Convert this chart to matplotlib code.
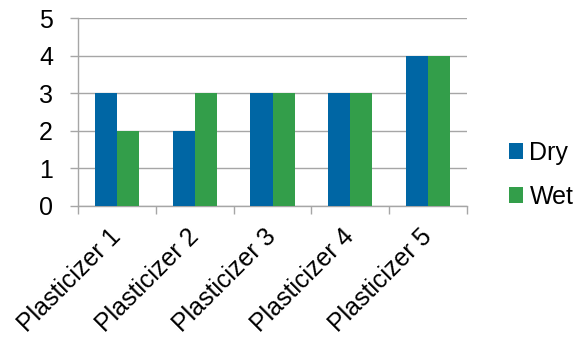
import matplotlib
matplotlib.use("Agg")
import matplotlib.pyplot as plt
import matplotlib.transforms as mtransforms
import numpy as np

categories = ["Plasticizer 1", "Plasticizer 2", "Plasticizer 3", "Plasticizer 4", "Plasticizer 5"]
dry = [3, 2, 3, 3, 4]
wet = [2, 3, 3, 3, 4]
y_ticks = [0, 1, 2, 3, 4, 5]

plt.rcParams["font.family"] = ["Liberation Sans", "DejaVu Sans"]
FS = 18

fig = plt.figure(figsize=(5.78, 3.41), dpi=100)
ax = fig.add_axes([0.135, 0.396, 0.673, 0.551])

x = np.arange(len(categories))
w = 0.285
grid_c = "#A6A6A6"

ax.bar(x - w / 2, dry, width=w, color="#0066A4", label="Dry", zorder=3)
ax.bar(x + w / 2, wet, width=w, color="#339E4A", label="Wet", zorder=3)

ax.set_xlim(-0.5, len(categories) - 0.5)
ax.set_ylim(0, 5)
ax.set_yticks(y_ticks)
ax.yaxis.grid(True, color=grid_c, linewidth=1.0, zorder=0)

for s in ["top", "right"]:
    ax.spines[s].set_visible(False)
for s in ["left", "bottom"]:
    ax.spines[s].set_color(grid_c)
    ax.spines[s].set_linewidth(1.0)

# category labels centred on groups, tick marks on the group boundaries
ax.set_xticks(x)
ax.set_xticklabels(categories, rotation=45, ha="right", rotation_mode="anchor", fontsize=18)
ax.tick_params(axis="x", which="major", length=0, pad=13.5)
shift = mtransforms.ScaledTranslation(-6 / 72, 0, fig.dpi_scale_trans)
for lbl in ax.get_xticklabels():
    lbl.set_transform(lbl.get_transform() + shift)
ax.set_xticks(np.arange(-0.5, len(categories)), minor=True)
ax.tick_params(axis="x", which="minor", length=6, color=grid_c, width=1.0, direction="out")
ax.tick_params(axis="y", length=6, color=grid_c, width=1.0, labelsize=FS, pad=12)

fig.legend(loc="center left", bbox_to_anchor=(0.881, 0.487), frameon=False,
           fontsize=FS, handlelength=0.56, handleheight=0.56, handletextpad=0.25,
           labelspacing=0.8, borderpad=0, borderaxespad=0)

fig.savefig("out.png", dpi=100)
